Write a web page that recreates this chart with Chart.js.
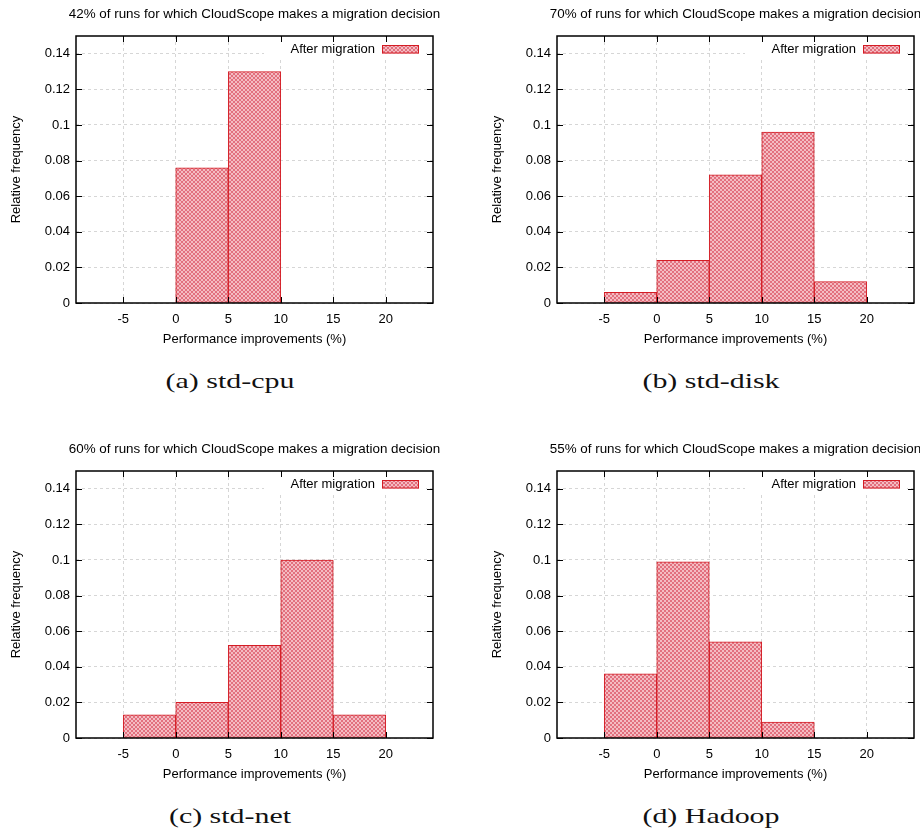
<!DOCTYPE html>
<html>
<head>
<meta charset="utf-8">
<script src="https://cdn.jsdelivr.net/npm/chart.js@4.4.1/dist/chart.umd.min.js"></script>
<style>
  html, body { margin: 0; padding: 0; background: #fff; overflow: hidden; }
  #wrap { position: relative; width: 920px; height: 832px; overflow: hidden; }
  .panel { position: absolute; width: 460px; height: 435px; }
  .panel canvas { position: absolute; left: 0; top: 0; }
  .cap {
    position: absolute; left: 0; top: 368px; width: 460px; line-height: 28px;
    text-align: center; font: 22px "Liberation Serif", "DejaVu Serif", serif;
    color: #111; transform: scaleX(1.36);
  }
</style>
</head>
<body>
<div id="wrap">
  <div class="panel" style="left:0;top:0"><canvas id="c0" width="460" height="350"></canvas><div class="cap">(a) std-cpu</div></div>
  <div class="panel" style="left:481px;top:0"><canvas id="c1" width="460" height="350"></canvas><div class="cap">(b) std-disk</div></div>
  <div class="panel" style="left:0;top:435px"><canvas id="c2" width="460" height="350"></canvas><div class="cap">(c) std-net</div></div>
  <div class="panel" style="left:481px;top:435px"><canvas id="c3" width="460" height="350"></canvas><div class="cap">(d) Hadoop</div></div>
</div>
<script>
// histogram bins: lower edges, width 5
const binStarts = [-5, 0, 5, 10, 15];
const binWidth = 5;

// relative frequency per bin
const cpuFreq = [0, 0.076, 0.130, 0, 0];
const diskFreq = [0.006, 0.024, 0.072, 0.096, 0.012];
const netFreq = [0.013, 0.020, 0.052, 0.100, 0.013];
const hadoopFreq = [0.036, 0.099, 0.054, 0.009, 0];

const titles = [
  "42% of runs for which CloudScope makes a migration decision",
  "70% of runs for which CloudScope makes a migration decision",
  "60% of runs for which CloudScope makes a migration decision",
  "55% of runs for which CloudScope makes a migration decision"
];

const xTicks = [-5, 0, 5, 10, 15, 20];
const yTicks = [0, 0.02, 0.04, 0.06, 0.08, 0.1, 0.12, 0.14];

const RED = "#d41c24";
const FONT = '"Liberation Sans", Arial, sans-serif';
Chart.defaults.font.family = FONT;
Chart.defaults.font.size = 13;
Chart.defaults.color = "#000";

// fine red crosshatch, kept low contrast so it reads as pink
function makeHatch(ctx) {
  const pc = document.createElement("canvas");
  pc.width = 4; pc.height = 4;
  const p = pc.getContext("2d");
  p.fillStyle = "#f4bcc2";
  p.fillRect(0, 0, 4, 4);
  p.fillStyle = "#e2707e";
  for (let i = 0; i < 4; i++) {
    p.fillRect(i, i, 1, 1);
    p.fillRect(3 - i, i, 1, 1);
  }
  return ctx.createPattern(pc, "repeat");
}

// title, inner ticks, frame and legend drawn the gnuplot way
const gnuFrame = {
  id: "gnuFrame",
  afterDatasetsDraw(chart, args, opts) {
    const { ctx, chartArea: a, scales: { x, y } } = chart;
    ctx.save();

    // title over the plot area
    ctx.font = "13.4px " + FONT;
    ctx.fillStyle = "#000";
    ctx.textAlign = "center";
    ctx.textBaseline = "middle";
    ctx.fillText(opts.title, (a.left + a.right) / 2, 14);

    // legend with white backing
    ctx.font = "13px " + FONT;
    ctx.fillStyle = "#fff";
    ctx.fillRect(a.right - 169, a.top + 1, 162, 21);
    ctx.fillStyle = "#000";
    ctx.textAlign = "right";
    ctx.fillText(chart.data.datasets[0].label, a.right - 58, a.top + 13);
    ctx.fillStyle = opts.hatch;
    ctx.fillRect(a.right - 51, a.top + 9.5, 37, 8);
    ctx.strokeStyle = RED;
    ctx.lineWidth = 1;
    ctx.strokeRect(a.right - 50.5, a.top + 9.5, 36, 7.5);

    // inward tick marks on all four sides
    ctx.strokeStyle = "#000";
    ctx.beginPath();
    xTicks.forEach(v => {
      const px = Math.round(x.getPixelForValue(v)) + 0.5;
      ctx.moveTo(px, a.top); ctx.lineTo(px, a.top + 6);
      ctx.moveTo(px, a.bottom); ctx.lineTo(px, a.bottom - 6);
    });
    yTicks.forEach(v => {
      const py = Math.round(y.getPixelForValue(v)) + 0.5;
      ctx.moveTo(a.left, py); ctx.lineTo(a.left + 6, py);
      ctx.moveTo(a.right, py); ctx.lineTo(a.right - 6, py);
    });
    ctx.stroke();

    ctx.lineWidth = 1.5;
    ctx.strokeRect(a.left, a.top, a.right - a.left, a.bottom - a.top);
    ctx.restore();
  }
};

function drawPanel(id, freq, title) {
  const ctx = document.getElementById(id).getContext("2d");
  const hatch = makeHatch(ctx);
  const points = [];
  binStarts.forEach((b, i) => {
    if (freq[i] > 0) points.push({ x: b + binWidth / 2, y: freq[i] });
  });

  new Chart(ctx, {
    type: "bar",
    data: {
      datasets: [{
        label: "After migration",
        data: points,
        backgroundColor: hatch,
        borderColor: RED,
        borderWidth: 1,
        borderSkipped: false,
        barPercentage: 1,
        categoryPercentage: 1
      }]
    },
    options: {
      responsive: false,
      animation: false,
      layout: { padding: { left: 0, right: 27, top: 36, bottom: 3 } },
      plugins: {
        legend: { display: false },
        tooltip: { enabled: false },
        gnuFrame: { title: title, hatch: hatch }
      },
      scales: {
        x: {
          type: "linear",
          min: -9.5,
          max: 24.5,
          offset: false,
          afterBuildTicks: s => { s.ticks = xTicks.map(v => ({ value: v })); },
          afterFit: s => { s.height = 44; },
          ticks: { padding: 9, font: { size: 13 } },
          grid: { color: "#d6d6d6", drawTicks: false, offset: false },
          border: { display: false, dash: [3, 3] },
          title: { display: true, text: "Performance improvements (%)", font: { size: 13 }, padding: 0 }
        },
        y: {
          min: 0,
          max: 0.15,
          afterBuildTicks: s => { s.ticks = yTicks.map(v => ({ value: v })); },
          afterFit: s => { s.width = 76; },
          ticks: { padding: 6, font: { size: 13 }, callback: v => String(+v.toFixed(2)) },
          grid: { color: "#d6d6d6", drawTicks: false },
          border: { display: false, dash: [3, 3] },
          title: { display: true, text: "Relative frequency", font: { size: 13 }, padding: { top: 9, bottom: 0 } }
        }
      }
    },
    plugins: [gnuFrame]
  });
}

drawPanel("c0", cpuFreq, titles[0]);
drawPanel("c1", diskFreq, titles[1]);
drawPanel("c2", netFreq, titles[2]);
drawPanel("c3", hadoopFreq, titles[3]);
</script>
</body>
</html>
